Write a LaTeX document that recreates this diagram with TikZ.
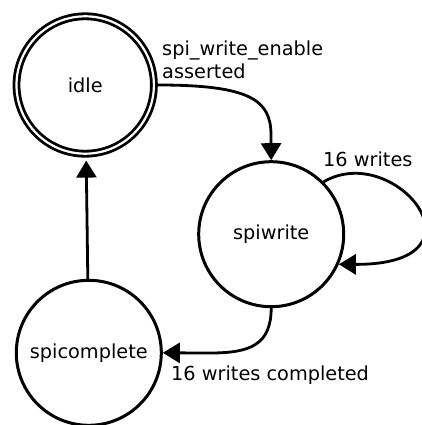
\documentclass[tikz,border=0pt]{standalone}
\usepackage{fontspec}
\setmainfont{DejaVu Sans}
\usetikzlibrary{arrows.meta}
\tikzset{
  state/.style={circle, draw, line width=3pt, minimum size=145pt, inner sep=0pt},
  initstate/.style={circle, draw, line width=2.8pt, double, double distance=2.2pt,
    minimum size=137.4pt, inner sep=0pt, outer sep=3.9pt},
  trans/.style={line width=2.8pt, -{Triangle[length=17pt,width=20pt]}},
  lbl/.style={inner sep=0pt, anchor=base west}
}
\begin{document}
\begin{tikzpicture}[x=1pt, y=-1pt, font=\fontsize{19.3}{22.5}\selectfont]
\useasboundingbox (0,0) rectangle (421,425);

% states
\node[initstate] (idle) at (85.2,85) {idle};
\node[state] (spiwrite) at (271.2,234.2) {spiwrite};
\node[state] (spicomplete) at (88.8,352.8) {spicomplete};

% transitions
\draw[trans] (idle.east) .. controls (250,85) and (271,100) .. (271,135) -- (spiwrite.north);
\draw[trans] (spiwrite.45) .. controls (395,140) and (495,265) .. (spiwrite.-24);
\draw[trans] (spiwrite.south) .. controls (271,345) and (250,353) .. (210,353) -- (spicomplete.east);
\draw[trans, shorten >=3pt] (spicomplete) -- (idle);

% transition labels
\node[lbl] (l1) at (162,56) {\begin{tabular}[t]{@{}l@{}}spi\_write\_enable\\asserted\end{tabular}};
\node[lbl] (l2) at (323,166) {16 writes};
\node[lbl] (l3) at (171,380) {16 writes completed};
\end{tikzpicture}
\end{document}
